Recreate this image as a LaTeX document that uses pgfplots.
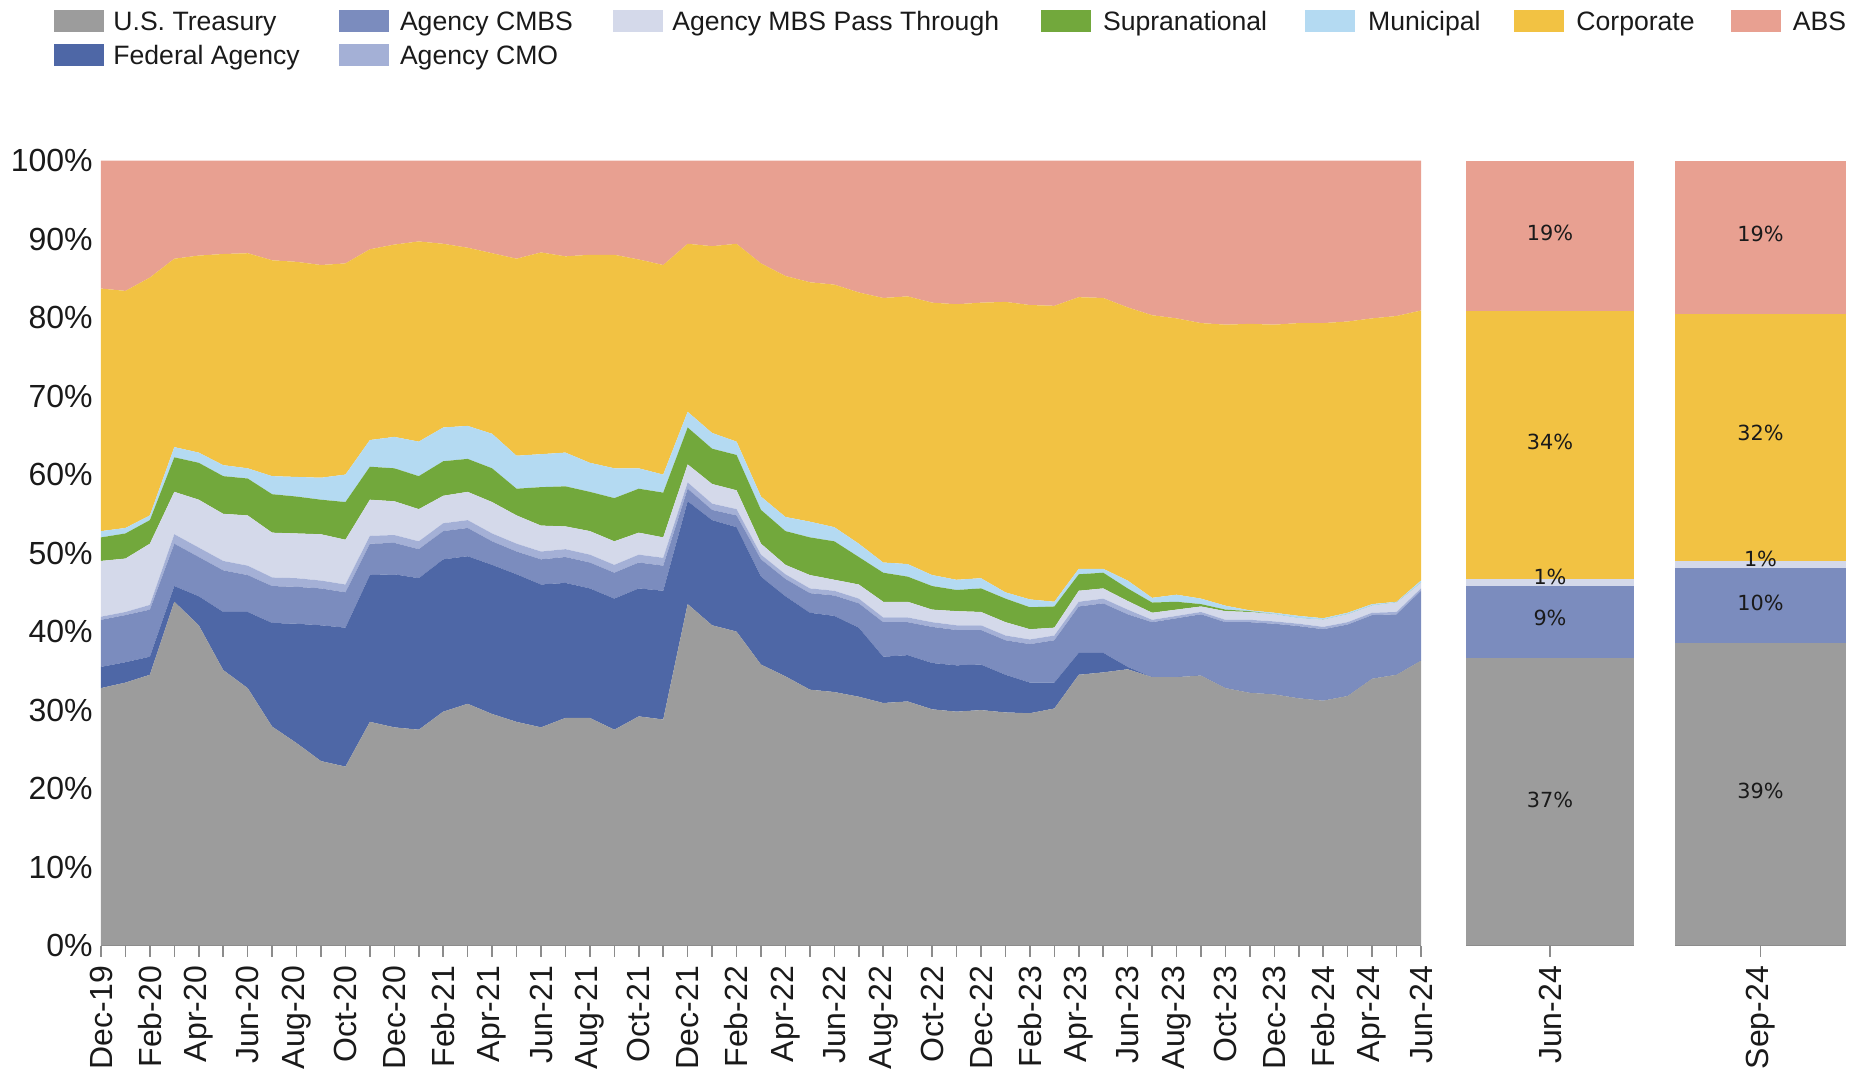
\documentclass[border=0pt]{standalone}
\usepackage{pgfplots}
\pgfplotsset{compat=1.18}
\usepackage{pgfplotstable}
\usepackage{fontspec}
\setmainfont{Liberation Sans}
\newfontfamily\dejavu{DejaVu Sans}

\definecolor{ctreas}{HTML}{9C9C9C}
\definecolor{cfed}{HTML}{4E67A6}
\definecolor{ccmbs}{HTML}{7B8CBE}
\definecolor{ccmo}{HTML}{A4B0D6}
\definecolor{cmbs}{HTML}{D4D9EA}
\definecolor{csup}{HTML}{72A83C}
\definecolor{cmun}{HTML}{B4DAF2}
\definecolor{ccorp}{HTML}{F2C243}
\definecolor{cabs}{HTML}{E8A091}
\definecolor{axisgray}{HTML}{8C8C8C}
\definecolor{txt}{HTML}{1A1A1A}

\newcommand{\ticksize}{\fontsize{16}{19}\selectfont\color{txt}}
\newcommand{\legsize}{\fontsize{13.3}{16}\selectfont\color{txt}}
\newcommand{\barsize}{\dejavu\fontsize{10.4}{12}\selectfont\color{txt}}

\pgfplotstableread{
i T FA CMBS CMO MBS SUP MUN CORP ABS
0 32.8 2.7 6.0 0.4 7.1 3.0 0.8 30.9 16.3
1 33.5 2.6 6.0 0.4 6.8 3.2 0.7 30.2 16.6
2 34.5 2.3 6.0 0.6 7.8 3.0 0.6 30.3 14.9
3 43.8 2.0 5.4 1.2 5.4 4.4 1.3 24.0 12.5
4 40.8 3.7 5.0 1.2 6.1 4.7 1.3 25.1 12.1
5 35.1 7.4 5.3 1.2 6.0 4.8 1.4 26.9 11.9
6 32.8 9.7 4.7 1.2 6.4 4.7 1.3 27.4 11.8
7 27.9 13.2 4.7 1.1 5.7 4.9 2.3 27.5 12.7
8 25.8 15.2 4.7 1.1 5.7 4.7 2.5 27.4 12.9
9 23.5 17.3 4.7 1.0 5.9 4.4 2.8 27.1 13.3
10 22.8 17.7 4.5 1.0 5.7 4.8 3.5 26.9 13.1
11 28.5 18.7 4.0 1.0 4.6 4.2 3.4 24.3 11.3
12 27.8 19.5 4.0 1.0 4.3 4.2 4.0 24.5 10.7
13 27.5 19.3 3.7 1.0 4.1 4.2 4.4 25.5 10.3
14 29.8 19.4 3.6 1.0 3.5 4.4 4.3 23.4 10.6
15 30.8 18.8 3.6 1.0 3.6 4.2 4.2 22.7 11.1
16 29.5 19.0 3.0 1.0 4.0 4.3 4.4 23.0 11.8
17 28.5 18.8 2.9 1.0 3.6 3.4 4.2 25.1 12.5
18 27.8 18.2 3.2 1.0 3.3 4.9 4.2 25.7 11.7
19 29.0 17.2 3.3 1.0 2.9 5.1 4.3 25.0 12.2
20 29.0 16.5 3.3 1.0 3.0 5.0 3.7 26.5 12.0
21 27.5 16.7 3.3 1.0 3.0 5.5 3.8 27.2 12.0
22 29.2 16.3 3.3 1.0 2.8 5.6 2.6 26.6 12.6
23 28.8 16.4 3.2 1.0 2.6 5.7 2.3 26.7 13.3
24 43.5 13.1 1.6 0.8 2.3 4.7 2.0 21.4 10.6
25 40.8 13.4 1.3 0.8 2.5 4.5 2.0 23.8 10.9
26 40.0 13.3 1.5 0.8 2.4 4.5 1.7 25.2 10.6
27 35.8 11.2 2.2 0.6 1.4 4.3 1.7 29.7 13.1
28 34.3 10.2 2.2 0.6 1.2 4.3 1.8 30.7 14.7
29 32.6 9.8 2.5 0.6 1.7 4.8 2.0 30.5 15.5
30 32.3 9.7 2.6 0.6 1.4 4.9 1.8 30.9 15.8
31 31.7 8.8 3.1 0.6 1.8 3.5 1.7 32.0 16.8
32 30.9 5.9 4.4 0.6 2.0 3.7 1.3 33.7 17.5
33 31.1 5.9 4.2 0.6 2.0 3.2 1.6 34.1 17.3
34 30.1 5.9 4.6 0.6 1.6 3.0 1.4 34.7 18.1
35 29.8 5.9 4.5 0.6 1.8 2.7 1.3 35.1 18.3
36 30.0 5.8 4.4 0.6 1.7 3.0 1.3 35.1 18.1
37 29.7 4.8 4.4 0.6 1.7 3.0 0.8 37.0 18.0
38 29.6 3.9 4.9 0.6 1.3 2.8 1.0 37.5 18.4
39 30.2 3.3 5.4 0.6 1.0 2.7 0.6 37.7 18.5
40 34.5 2.8 5.9 0.6 1.4 2.1 0.7 34.6 17.4
41 34.8 2.5 6.3 0.6 1.3 2.0 0.5 34.5 17.5
42 35.2 0.3 6.7 0.6 1.1 1.6 1.0 34.8 18.7
43 34.2 0.0 7.0 0.3 0.9 1.3 0.6 36.0 19.7
44 34.2 0.0 7.5 0.3 0.8 1.0 0.9 35.2 20.1
45 34.4 0.0 7.8 0.3 0.7 0.3 0.7 35.1 20.7
46 32.8 0.0 8.4 0.3 1.1 0.2 0.5 35.8 20.9
47 32.2 0.0 9.0 0.3 1.0 0.1 0.1 36.5 20.8
48 32.0 0.0 9.0 0.3 0.9 0.0 0.2 36.7 20.9
49 31.5 0.0 9.2 0.3 0.7 0.0 0.3 37.3 20.7
50 31.2 0.0 9.1 0.3 0.9 0.0 0.2 37.6 20.7
51 31.8 0.0 9.1 0.3 1.0 0.0 0.2 37.1 20.5
52 34.0 0.0 8.1 0.3 0.9 0.0 0.2 36.4 20.1
53 34.5 0.0 7.7 0.3 1.2 0.0 0.1 36.4 19.8
54 36.3 0.0 8.9 0.3 0.7 0.0 0.3 34.4 19.1
}\maindata

\pgfplotsset{
  barpanel/.style={
    scale only axis, width=#1, height=392.5pt,
    anchor=south west,
    xmin=-0.5, xmax=0.5, ymin=0, ymax=100, enlargelimits=false,
    ybar stacked, bar width=#1,
    axis lines*=left,
    x axis line style={draw=axisgray, line width=0.8pt},
    y axis line style={draw=none},
    ytick=\empty,
    xtick={0},
    tick style={draw=axisgray, line width=0.8pt},
    tick align=outside, major tick length=5.5pt,
    xticklabel style={rotate=90, anchor=east, inner sep=0pt, font=\ticksize},
    xticklabel shift=4.5pt,
    axis on top,
  },
}

\begin{document}
\begin{tikzpicture}
\useasboundingbox (0,0) rectangle (932.5pt,537.5pt);

\begin{axis}[
  at={(50.5pt,64.7pt)}, anchor=south west,
  scale only axis, width=660pt, height=392.5pt,
  xmin=0, xmax=54, ymin=0, ymax=100, enlargelimits=false,
  stack plots=y,
  axis lines*=left,
  x axis line style={draw=axisgray, line width=0.8pt},
  y axis line style={draw=none},
  ytick={0,10,20,30,40,50,60,70,80,90,100},
  yticklabels={0\%,10\%,20\%,30\%,40\%,50\%,60\%,70\%,80\%,90\%,100\%},
  ytick style={draw=none},
  yticklabel style={anchor=east, inner sep=0pt, font=\ticksize},
  yticklabel shift=-1.5pt,
  xtick={0,2,...,54},
  minor xtick={1,3,...,53},
  xticklabels={Dec-19,Feb-20,Apr-20,Jun-20,Aug-20,Oct-20,Dec-20,Feb-21,Apr-21,Jun-21,Aug-21,Oct-21,Dec-21,Feb-22,Apr-22,Jun-22,Aug-22,Oct-22,Dec-22,Feb-23,Apr-23,Jun-23,Aug-23,Oct-23,Dec-23,Feb-24,Apr-24,Jun-24},
  x tick style={draw=axisgray, line width=0.8pt},
  minor x tick style={draw=axisgray, line width=0.8pt},
  tick align=outside, major tick length=5.5pt, minor tick length=5.5pt,
  xticklabel style={rotate=90, anchor=east, inner sep=0pt, font=\ticksize},
  xticklabel shift=4.5pt,
  axis on top,
]
\addplot[fill=ctreas, draw=none] table[x=i,y=T]{\maindata} \closedcycle;
\addplot[fill=cfed, draw=none] table[x=i,y=FA]{\maindata} \closedcycle;
\addplot[fill=ccmbs, draw=none] table[x=i,y=CMBS]{\maindata} \closedcycle;
\addplot[fill=ccmo, draw=none] table[x=i,y=CMO]{\maindata} \closedcycle;
\addplot[fill=cmbs, draw=none] table[x=i,y=MBS]{\maindata} \closedcycle;
\addplot[fill=csup, draw=none] table[x=i,y=SUP]{\maindata} \closedcycle;
\addplot[fill=cmun, draw=none] table[x=i,y=MUN]{\maindata} \closedcycle;
\addplot[fill=ccorp, draw=none] table[x=i,y=CORP]{\maindata} \closedcycle;
\addplot[fill=cabs, draw=none] table[x=i,y=ABS]{\maindata} \closedcycle;
\end{axis}

\begin{axis}[barpanel=84pt, at={(733pt,64.7pt)}, xticklabels={Jun-24}]
\addplot[fill=ctreas, draw=none] coordinates {(0,36.6)};
\addplot[fill=ccmbs, draw=none] coordinates {(0,9.2)};
\addplot[fill=cmbs, draw=none] coordinates {(0,0.9)};
\addplot[fill=ccorp, draw=none] coordinates {(0,34.1)};
\addplot[fill=cabs, draw=none] coordinates {(0,19.2)};
\coordinate (a1) at (axis cs:0,18.6);
\coordinate (a2) at (axis cs:0,41.7);
\coordinate (a3) at (axis cs:0,46.9);
\coordinate (a4) at (axis cs:0,64.2);
\coordinate (a5) at (axis cs:0,90.8);
\end{axis}

\begin{axis}[barpanel=85.5pt, at={(837.5pt,64.7pt)}, xticklabels={Sep-24}]
\addplot[fill=ctreas, draw=none] coordinates {(0,38.6)};
\addplot[fill=ccmbs, draw=none] coordinates {(0,9.5)};
\addplot[fill=cmbs, draw=none] coordinates {(0,0.9)};
\addplot[fill=ccorp, draw=none] coordinates {(0,31.5)};
\addplot[fill=cabs, draw=none] coordinates {(0,19.5)};
\coordinate (b1) at (axis cs:0,19.7);
\coordinate (b2) at (axis cs:0,43.6);
\coordinate (b3) at (axis cs:0,49.2);
\coordinate (b4) at (axis cs:0,65.3);
\coordinate (b5) at (axis cs:0,90.6);
\end{axis}

\node[font=\barsize] at (a1) {37\%};
\node[font=\barsize] at (a2) {9\%};
\node[font=\barsize] at (a3) {1\%};
\node[font=\barsize] at (a4) {34\%};
\node[font=\barsize] at (a5) {19\%};
\node[font=\barsize] at (b1) {39\%};
\node[font=\barsize] at (b2) {10\%};
\node[font=\barsize] at (b3) {1\%};
\node[font=\barsize] at (b4) {32\%};
\node[font=\barsize] at (b5) {19\%};

% legend
\fill[ctreas] (26.75pt,521.5pt) rectangle ++(25pt,11pt);
\node[anchor=base west, inner sep=0pt, font=\legsize] at (56.5pt,522.25pt) {U.S. Treasury};
\fill[cfed] (26.75pt,504.5pt) rectangle ++(25pt,11pt);
\node[anchor=base west, inner sep=0pt, font=\legsize] at (56.5pt,505.25pt) {Federal Agency};
\fill[ccmbs] (169.5pt,521.5pt) rectangle ++(25pt,11pt);
\node[anchor=base west, inner sep=0pt, font=\legsize] at (199.8pt,522.25pt) {Agency CMBS};
\fill[ccmo] (169.5pt,504.5pt) rectangle ++(25pt,11pt);
\node[anchor=base west, inner sep=0pt, font=\legsize] at (199.8pt,505.25pt) {Agency CMO};
\fill[cmbs] (306.25pt,521.5pt) rectangle ++(25pt,11pt);
\node[anchor=base west, inner sep=0pt, font=\legsize] at (336pt,522.25pt) {Agency MBS Pass Through};
\fill[csup] (520.35pt,521.5pt) rectangle ++(25pt,11pt);
\node[anchor=base west, inner sep=0pt, font=\legsize] at (551.3pt,522.25pt) {Supranational};
\fill[cmun] (652.4pt,521.5pt) rectangle ++(25pt,11pt);
\node[anchor=base west, inner sep=0pt, font=\legsize] at (683.9pt,522.25pt) {Municipal};
\fill[ccorp] (757pt,521.5pt) rectangle ++(25pt,11pt);
\node[anchor=base west, inner sep=0pt, font=\legsize] at (788pt,522.25pt) {Corporate};
\fill[cabs] (865.3pt,521.5pt) rectangle ++(25pt,11pt);
\node[anchor=base west, inner sep=0pt, font=\legsize] at (896.2pt,522.25pt) {ABS};
\end{tikzpicture}
\end{document}
